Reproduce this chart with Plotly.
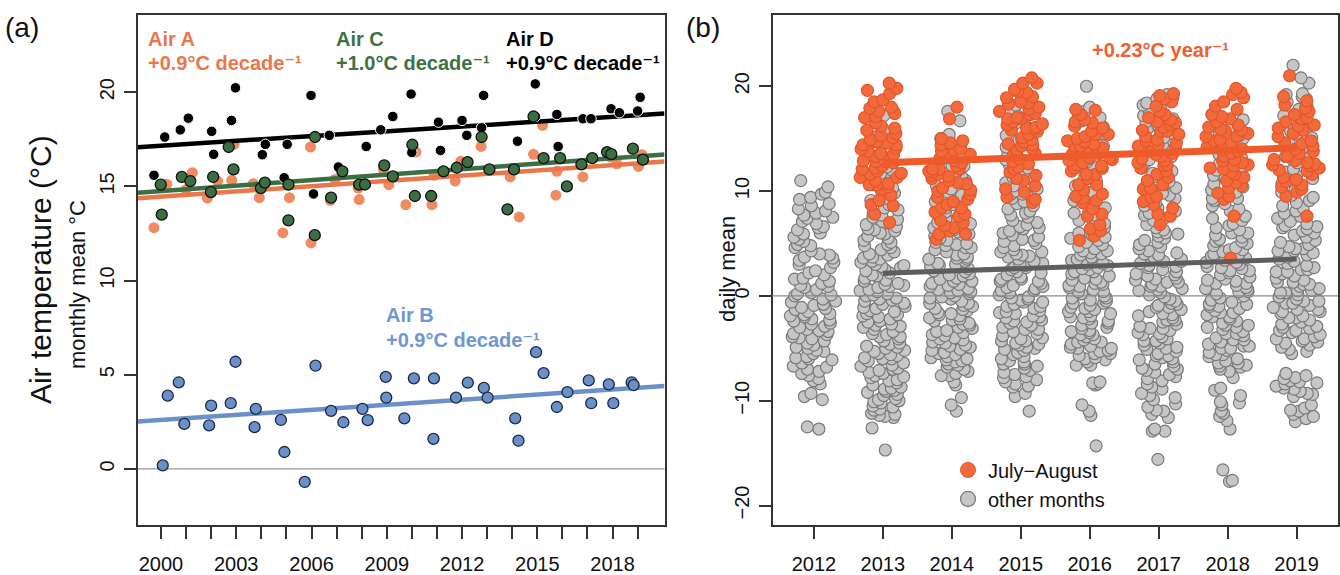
import plotly.graph_objects as go

# ---------------- data: panel (a) monthly means ----------------
AIR_A_X = [1999.72, 2000.23, 2001.00, 2001.25, 2001.85, 2002.26, 2002.82, 2002.91, 2003.68, 2003.92,
           2004.86, 2005.12, 2005.96, 2005.98, 2006.75, 2006.94, 2007.90, 2007.86, 2008.87, 2009.08,
           2009.76, 2010.16, 2010.80, 2010.89, 2011.73, 2011.95, 2012.76, 2013.92, 2014.28, 2014.85,
           2015.21, 2015.74, 2015.78, 2016.82, 2017.91, 2018.17, 2019.03, 2019.17]
AIR_A_Y = [12.81, 15.11, 14.83, 15.73, 14.38, 15.28, 15.32, 17.23, 15.14, 14.40,
           12.53, 14.40, 17.09, 12.00, 14.26, 15.37, 14.30, 14.91, 15.89, 15.09,
           14.03, 16.82, 14.03, 15.59, 15.28, 16.33, 17.12, 15.50, 13.38, 16.70,
           18.24, 14.53, 15.80, 15.50, 16.56, 16.20, 16.06, 16.68]

AIR_B_X = [2000.07, 2000.27, 2000.71, 2000.93, 2001.92, 2002.00, 2002.78, 2002.97, 2003.73, 2003.78,
           2004.78, 2004.92, 2005.73, 2006.16, 2006.78, 2007.27, 2008.03, 2008.24, 2008.96, 2008.98,
           2009.70, 2010.08, 2010.88, 2010.86, 2011.76, 2012.23, 2012.87, 2013.02, 2014.12, 2014.25,
           2014.95, 2015.25, 2015.78, 2016.20, 2017.05, 2017.15, 2017.85, 2018.03, 2018.76, 2018.84]
AIR_B_Y = [0.19, 3.89, 4.60, 2.39, 2.31, 3.36, 3.49, 5.69, 2.22, 3.19,
           2.60, 0.90, -0.69, 5.48, 3.08, 2.48, 3.19, 2.59, 4.89, 3.79,
           2.69, 4.81, 4.81, 1.60, 3.79, 4.58, 4.30, 3.79, 2.69, 1.50,
           6.20, 5.09, 3.29, 4.08, 4.70, 3.49, 4.49, 3.49, 4.60, 4.45]

AIR_C_X = [1999.99, 2000.03, 2000.83, 2001.17, 2001.99, 2002.08, 2002.70, 2002.89, 2003.98, 2004.14,
           2005.08, 2005.08, 2006.14, 2006.13, 2006.78, 2007.23, 2007.90, 2008.13, 2008.90, 2009.24,
           2010.02, 2010.12, 2010.77, 2011.26, 2011.79, 2012.22, 2012.78, 2013.09, 2013.81, 2014.07,
           2014.85, 2015.25, 2015.91, 2016.18, 2016.76, 2017.19, 2017.78, 2017.95, 2018.81, 2019.21]
AIR_C_Y = [15.09, 13.50, 15.50, 15.28, 14.70, 15.50, 17.09, 15.90, 14.91, 15.20,
           15.09, 13.20, 17.62, 12.41, 14.40, 15.80, 15.09, 15.10, 16.12, 15.53,
           17.21, 14.49, 14.49, 15.80, 15.99, 16.29, 17.62, 15.90, 13.78, 15.90,
           18.71, 16.50, 16.50, 15.00, 16.17, 16.50, 16.82, 16.71, 17.00, 16.42]

AIR_D_X = [1999.72, 2000.15, 2000.77, 2001.09, 2002.02, 2002.10, 2002.81, 2002.97, 2004.04, 2004.16,
           2004.91, 2005.03, 2005.98, 2006.08, 2006.71, 2007.07, 2008.18, 2008.76, 2009.24, 2009.97,
           2010.00, 2011.06, 2011.14, 2012.00, 2012.19, 2012.78, 2012.86, 2014.21, 2014.92, 2014.92,
           2015.78, 2015.83, 2016.82, 2017.14, 2017.94, 2018.27, 2019.00, 2019.10]
AIR_D_Y = [15.59, 17.62, 18.00, 18.62, 17.92, 16.70, 18.50, 20.23, 16.68, 17.23,
           15.46, 17.23, 19.83, 14.60, 17.71, 16.03, 17.12, 18.00, 18.71, 19.90,
           16.80, 18.41, 16.91, 18.50, 17.71, 18.11, 19.83, 17.40, 20.44, 18.71,
           18.82, 17.12, 18.59, 18.59, 19.12, 18.91, 19.00, 19.73]

# linear trends: value at 2000 and slope per year
TREND_A = [14.45, 0.093]
TREND_B = [2.60, 0.090]
TREND_C = [14.75, 0.097]
TREND_D = [17.16, 0.085]

LABEL_A = ["Air A", "+0.9°C decade⁻¹"]
LABEL_B = ["Air B", "+0.9°C decade⁻¹"]
LABEL_C = ["Air C", "+1.0°C decade⁻¹"]
LABEL_D = ["Air D", "+0.9°C decade⁻¹"]

A_MINOR_TICKS = list(range(2000, 2020))
A_LABEL_YEARS = [2000, 2003, 2006, 2009, 2012, 2015, 2018]

# ---------------- data: panel (b) daily means ----------------
YEARS_B = [2012, 2013, 2014, 2015, 2016, 2017, 2018, 2019]

GRAY_2012 = [11.0, 10.4, 9.9, 9.7, 9.4, 8.6, 8.3, 8.1, 7.7, 7.4, 7.1, 6.9, 6.3, 6.0, 5.6, 4.9, 4.8, 4.3,
             4.0, 3.6, 3.2, 2.4, 2.0, 1.7, 1.4, 1.2, 0.9, 0.6, 0.3, 0.0, -0.3, -0.6, -0.8, -1.1, -1.5,
             -1.8, -2.0, -2.2, -2.6, -2.9, -3.2, -3.4, -3.7, -4.0, -4.3, -4.5, -4.9, -5.2, -5.5, -5.8,
             -6.1, -6.4, -6.7, -7.0, -7.4, -7.9, -8.1, -9.3, -9.6, -9.9, -12.5, -12.7, 2.7, -1.3, 0.2,
             -3.0, -5.0, 5.2, 3.4, -2.4,
             9.2, 8.8, 7.9, 7.5, 6.6, 5.9, 5.4, 4.6, 3.9, 3.0, 2.2, 1.6, 0.8, 0.1, -0.5, -1.2, -1.9,
             -2.7, -3.3, -3.9, -4.7, -5.3, -6.0, -6.8, -7.6, -8.4, 1.0, -0.9, -2.3, -4.1, -5.9, -7.2,
             6.5, 3.7, -1.7, -3.6]
GRAY_2013 = [17.6, 17.2, 16.5, 15.8, 15.3, 14.9, 14.2, 13.6, 12.9, 12.3, 11.7, 11.1, 10.6, 10.0, 9.6,
             9.1, 8.7, 8.2, 7.9, 7.5, 7.1, 6.8, 6.4, 6.0, 5.7, 5.3, 4.9, 4.6, 4.2, 3.9, 3.5, 3.2, 2.8,
             2.5, 2.2, 1.9, 1.5, 1.2, 0.8, 0.5, 0.2, -0.2, -0.5, -0.8, -1.2, -1.5, -1.8, -2.2, -2.5,
             -2.9, -3.2, -3.6, -3.9, -4.3, -4.6, -5.0, -5.3, -5.7, -6.0, -6.4, -6.7, -7.1, -7.4, -7.8,
             -8.1, -8.5, -8.8, -9.2, -9.5, -9.9, -10.2, -10.6, -10.9, -11.3, -11.6, -12.6, -14.7, 3.0,
             0.0, -3.0, -6.9, 5.5, 1.0, -1.0, -4.8, -9.0, 2.0, 6.6, -2.7, -7.6,
             12.0, 11.4, 10.3, 9.8, 9.3, 8.4, 7.7, 7.3, 6.2, 5.9, 5.1, 4.4, 4.0, 3.6, 3.3, 2.7, 2.4, 1.7,
             1.4, 0.9, 0.4, 0.1, -0.4, -0.7, -1.1, -1.4, -1.9, -2.4, -2.8, -3.4, -3.7, -4.1, -4.5, -5.2,
             -5.5, -5.9, -6.2, -6.6, -7.0, -7.3, -7.7, -8.0, -8.3, -8.7, -9.1, -9.4, -9.8, -10.1, -10.5,
             -10.8, -11.2, -11.5, -11.4, 1.1, -0.3, -2.0, -3.9, -6.0, 2.9, 4.8, -1.7, -8.9, 0.6, 3.7,
             -4.9, 6.3, -5.6, -10.0]
GRAY_2014 = [17.6, 16.7, 15.4, 14.9, 14.3, 13.8, 13.2, 12.7, 12.1, 11.6, 11.0, 10.5, 9.9, 9.4, 8.9,
             8.4, 8.0, 7.6, 7.1, 6.7, 6.3, 5.9, 5.5, 5.1, 4.8, 4.4, 4.0, 3.7, 3.3, 3.0, 2.6, 2.3, 1.9,
             1.6, 1.2, 0.9, 0.5, 0.2, -0.2, -0.5, -0.9, -1.2, -1.6, -1.9, -2.3, -2.6, -3.0, -3.3, -3.7,
             -4.0, -4.4, -4.7, -5.1, -5.4, -5.8, -6.1, -6.5, -6.8, -7.2, -7.6, -8.2, -8.5, -9.7, -10.4,
             -11.0, 3.5, 1.4, -0.7, -2.8, -4.9, 6.0, 9.0, -1.4, -3.5, -6.3, 0.6, 2.0, 4.6, -5.6, 12.4,
             15.0, 14.6, 13.5, 13.0, 12.4, 11.9, 11.3, 10.8, 10.2, 9.6, 9.2, 8.7, 8.2, 7.8, 7.3, 6.9, 6.5,
             6.1, 5.7, 5.3, 4.9, 4.6, 4.2, 3.9, 3.5, 3.1, 2.8, 2.4, 2.1, 1.7, 1.4, 1.0, 0.7, 0.3, 0.0,
             -0.3, -0.7, -1.0, -1.3, -1.7, -2.1, -2.4, -2.7, -3.1, -3.4, -3.8, -4.1, -4.5, -4.8, -5.2,
             -5.5, -5.9, -6.2, -6.6, -7.0, -7.4, -7.6, 1.1, -0.1, -2.2, -4.2, 2.9, 5.0, -6.0, 0.4, -1.8,
             3.6, 7.0]
GRAY_2015 = [18.2, 17.5, 16.9, 16.2, 15.6, 15.0, 14.5, 13.9, 13.3, 12.8, 12.2, 11.6, 11.1, 10.5, 10.0,
             9.5, 9.0, 8.6, 8.1, 7.7, 7.2, 6.8, 6.4, 6.0, 5.6, 5.2, 4.8, 4.4, 4.0, 3.7, 3.3, 2.9, 2.5,
             2.2, 1.8, 1.4, 1.0, 0.7, 0.3, -0.1, -0.4, -0.8, -1.2, -1.5, -1.9, -2.3, -2.6, -3.0, -3.4,
             -3.8, -4.1, -4.5, -4.9, -5.2, -5.6, -6.0, -6.3, -6.7, -7.1, -7.5, -7.8, -8.2, -8.6, -9.3,
             -9.6, -11.0, 0.5, -1.0, -3.2, -5.0, 2.7, 4.2, -2.0, -6.5, 1.6, -0.2, 3.9, -4.3, 6.5, 9.7,
             17.2, 16.5, 15.9, 15.3, 14.8, 14.2, 13.6, 13.0, 12.5, 11.9, 11.3, 10.8, 10.2, 9.7, 9.3, 8.8,
             8.3, 7.9, 7.5, 7.0, 6.6, 6.2, 5.8, 5.4, 5.0, 4.6, 4.2, 3.8, 3.5, 3.1, 2.7, 2.3, 2.0, 1.6,
             1.2, 0.8, 0.5, 0.1, -0.3, -0.6, -1.0, -1.4, -1.7, -2.1, -2.5, -2.8, -3.2, -3.6, -4.0, -4.3,
             -4.7, -5.1, -5.4, -5.8, -6.2, -6.5, -6.9, -7.3, -7.7, -8.0, -8.4, -8.7, 1.4, -0.6, -2.4,
             3.0, -4.6, 0.9, -1.6, 5.3]
GRAY_2016 = [20.0, 18.0, 17.3, 16.7, 16.1, 15.5, 14.9, 14.3, 13.7, 13.1, 12.5, 11.9, 11.3, 10.8, 10.2,
             9.7, 9.1, 8.6, 8.1, 7.6, 7.2, 6.7, 6.2, 5.8, 5.3, 4.9, 4.5, 4.1, 3.7, 3.3, 2.9, 2.5, 2.1,
             1.7, 1.3, 1.0, 0.6, 0.2, -0.2, -0.5, -0.9, -1.3, -1.7, -2.0, -2.4, -2.8, -3.1, -3.5, -3.9,
             -4.2, -4.6, -5.0, -5.3, -5.7, -6.1, -6.6, -8.3, -8.4, -8.5, -8.2, -10.4, -11.0, -11.4,
             -14.3, 0.4, -1.5, -3.7, 2.3, 4.3, -2.6, -4.4, 1.1, -0.7, 3.0, -5.5, 5.6,
             17.6, 17.0, 16.4, 15.8, 15.2, 14.6, 14.0, 13.4, 12.8, 12.2, 11.6, 11.0, 10.5, 9.9, 9.4, 8.9,
             8.4, 7.9, 7.4, 6.9, 6.5, 6.0, 5.5, 5.1, 4.7, 4.3, 3.9, 3.5, 3.1, 2.7, 2.3, 1.9, 1.5, 1.2,
             0.8, 0.4, 0.0, -0.4, -0.7, -1.1, -1.5, -1.9, -2.2, -2.6, -3.0, -3.3, -3.7, -4.1, -4.4, -4.8,
             -5.2, -5.5, -5.9, -6.3, -6.6, 0.9, -0.2, -2.1, -3.4, 2.6, 4.0, -4.9, 1.6, -1.2, 3.4, 6.3,
             -5.0, -6.0]
GRAY_2017 = [19.2, 18.8, 18.2, 17.5, 16.9, 16.3, 15.7, 15.1, 14.5, 13.9, 13.3, 12.8, 12.2, 11.7, 11.1,
             10.6, 10.1, 9.6, 9.1, 8.6, 8.1, 7.7, 7.2, 6.8, 6.3, 5.9, 5.5, 5.1, 4.7, 4.3, 3.9, 3.5, 3.1,
             2.7, 2.3, 1.9, 1.5, 1.1, 0.7, 0.3, -0.1, -0.5, -0.9, -1.3, -1.7, -2.1, -2.5, -2.9, -3.3,
             -3.7, -4.1, -4.5, -4.9, -5.3, -5.7, -6.1, -6.5, -6.9, -7.3, -7.7, -8.1, -8.7, -9.3, -9.5,
             -10.3, -10.9, -11.0, -11.3, -11.6, -12.7, -12.9, -12.9, -15.6, 0.9, -1.1, -3.1, -5.0, 2.0,
             4.0, -2.3, -6.0, -7.0, 1.3, -4.3, 6.0, 3.3, -8.4, -9.9,
             18.9, 18.4, 17.8, 17.2, 16.6, 16.0, 15.4, 14.8, 14.2, 13.6, 13.0, 12.5, 11.9, 11.4, 10.9,
             10.3, 9.8, 9.3, 8.8, 8.4, 7.9, 7.4, 7.0, 6.5, 6.1, 5.7, 5.3, 4.9, 4.5, 4.1, 3.7, 3.3, 2.9,
             2.5, 2.1, 1.7, 1.3, 0.9, 0.5, 0.1, -0.3, -0.7, -1.1, -1.5, -1.9, -2.3, -2.7, -3.1, -3.5,
             -3.9, -4.3, -4.7, -5.1, -5.5, -5.9, -6.3, -6.7, -7.1, -7.5, -7.9, -8.9, -9.7, -10.6, 0.6,
             -1.8, -3.6, 2.8, -5.7, 1.6, -0.8]
GRAY_2018 = [17.0, 16.4, 15.9, 15.3, 14.7, 14.1, 13.5, 12.9, 12.3, 11.8, 11.2, 10.7, 10.1, 9.6, 9.1,
             8.6, 8.1, 7.6, 7.2, 6.7, 6.3, 5.8, 5.4, 5.0, 4.6, 4.2, 3.8, 3.4, 3.0, 2.6, 2.2, 1.8, 1.4,
             1.0, 0.6, 0.2, -0.2, -0.6, -1.0, -1.4, -1.8, -2.2, -2.6, -3.0, -3.4, -3.8, -4.2, -4.6, -5.0,
             -5.4, -5.8, -6.2, -6.6, -7.0, -7.8, -8.8, -9.5, -10.1, -10.4, -11.0, -11.2, -11.9, -12.7,
             -16.6, -17.6, -17.7, 0.4, -1.6, -3.6, -5.6, 2.4, 4.4, -0.8, -2.8, -4.8, 1.2, 3.2, -6.4, 6.0,
             9.3,
             16.8, 16.1, 15.6, 15.0, 14.4, 13.8, 13.2, 12.6, 12.0, 11.5, 10.9, 10.4, 9.9, 9.3, 8.8, 8.3,
             7.9, 7.4, 6.9, 6.5, 6.0, 5.6, 5.2, 4.8, 4.4, 4.0, 3.6, 3.2, 2.8, 2.4, 2.0, 1.6, 1.2, 0.8,
             0.4, 0.0, -0.4, -0.8, -1.2, -1.6, -2.0, -2.4, -2.8, -3.2, -3.6, -4.0, -4.4, -4.8, -5.2, -5.6,
             -6.0, -6.4, -6.8, -7.2, -9.0, -10.2, -11.5, 0.7, -1.0, -3.0, 2.7, -5.0, 1.5, -2.0, 3.9,
             -4.2, 5.2, -6.7]
GRAY_2019 = [22.0, 20.8, 20.3, 19.2, 19.0, 18.5, 17.8, 17.2, 16.6, 16.0, 15.4, 14.8, 14.2, 13.6, 13.0,
             12.4, 11.8, 11.2, 10.7, 10.1, 9.6, 9.1, 8.6, 8.1, 7.6, 7.1, 6.7, 6.2, 5.8, 5.3, 4.9, 4.5,
             4.1, 3.7, 3.3, 2.9, 2.5, 2.1, 1.7, 1.3, 0.9, 0.5, 0.1, -0.3, -0.7, -1.1, -1.5, -1.9, -2.3,
             -2.7, -3.1, -3.5, -3.9, -4.3, -4.7, -5.1, -5.5, -7.4, -7.6, -7.9, -8.1, -8.3, -8.4, -8.6,
             -8.9, -9.1, -9.3, -9.6, -10.4, -10.9, -11.0, -11.3, -11.7, -12.0, 0.3, -1.3, -3.3, 2.3, 4.3,
             -2.1, 1.1, 6.4, -4.1, -0.5,
             19.3, 18.8, 18.1, 17.5, 16.9, 16.3, 15.7, 15.1, 14.5, 13.9, 13.3, 12.7, 12.1, 11.5, 11.0,
             10.4, 9.9, 9.4, 8.9, 8.4, 7.9, 7.4, 6.9, 6.5, 6.0, 5.6, 5.1, 4.7, 4.3, 3.9, 3.5, 3.1, 2.7,
             2.3, 1.9, 1.5, 1.1, 0.7, 0.3, -0.1, -0.5, -0.9, -1.3, -1.7, -2.1, -2.5, -2.9, -3.3, -3.7,
             -4.1, -4.5, -4.9, -5.3, -7.8, -8.2, -8.8, -9.4, -10.7, -11.5, 0.5, -1.5, 2.5, -3.0, 4.5,
             -0.7, 1.3, -4.4, 6.6]

ORANGE_2012 = []
ORANGE_2013 = [20.3, 19.8, 19.6, 19.3, 18.5, 18.0, 17.9, 17.6, 17.4, 17.1, 16.5, 16.0, 15.5, 15.1, 14.7,
               14.6, 14.1, 14.0, 13.1, 12.8, 12.8, 12.7, 12.1, 11.9, 11.3, 11.3, 10.7, 10.6, 10.6, 10.2,
               9.1, 8.7, 8.6, 7.8, 7.0, 14.4, 13.6, 12.4, 15.8, 11.6,
               16.2, 15.3, 14.9, 13.8, 13.3, 12.9, 12.2, 11.7, 11.0, 10.4, 9.6, 17.0, 18.7, 13.5, 14.4]
ORANGE_2014 = [18.0, 16.9, 15.0, 14.8, 14.4, 14.0, 13.8, 13.5, 12.4, 12.1, 12.1, 12.1, 11.5, 11.4, 11.0,
               10.3, 10.0, 9.4, 8.7, 8.4, 8.4, 7.8, 7.6, 7.2, 6.7, 6.5, 5.9, 5.9, 5.4, 11.8, 10.7, 13.1, 9.0,
               14.6, 13.9, 13.2, 12.7, 11.9, 11.2, 10.8, 10.1, 9.7, 9.2, 8.0, 7.0, 6.2, 12.9, 11.6]
ORANGE_2015 = [20.8, 20.3, 20.3, 19.5, 19.4, 18.9, 18.5, 18.4, 18.3, 17.6, 17.4, 17.3, 16.9, 16.9, 16.6,
               16.3, 16.0, 15.8, 15.7, 15.4, 14.7, 14.5, 14.3, 13.9, 13.4, 12.8, 12.3, 12.1, 11.8, 11.2,
               11.0, 10.5, 9.9, 9.4, 9.2, 8.9, 14.9, 13.1,
               19.0, 18.0, 17.8, 17.0, 16.4, 15.9, 15.1, 14.1, 13.6, 12.6, 11.5, 10.2, 19.7, 16.1, 14.4]
ORANGE_2016 = [17.8, 17.7, 17.3, 16.8, 16.6, 16.5, 16.0, 15.4, 15.2, 15.4, 14.8, 14.3, 14.3, 14.1, 13.5,
               13.2, 13.2, 12.7, 12.5, 12.2, 12.2, 11.6, 11.6, 10.6, 10.6, 9.7, 9.5, 9.1, 8.9, 7.8, 7.6,
               6.8, 6.4, 6.2, 5.7, 5.3,
               16.2, 15.7, 15.0, 14.5, 13.8, 13.0, 12.4, 11.9, 11.2, 10.1, 9.3, 8.3, 14.7, 12.9, 13.6]
ORANGE_2017 = [19.3, 19.1, 18.5, 17.6, 17.3, 16.8, 16.5, 16.3, 15.8, 15.7, 15.7, 14.9, 14.8, 14.6, 14.3,
               13.9, 13.8, 13.5, 12.5, 12.4, 12.2, 11.6, 11.3, 10.3, 10.2, 9.5, 9.4, 8.7, 8.4, 7.8, 7.6,
               6.8, 13.1, 12.9, 15.2,
               18.8, 18.1, 17.0, 16.1, 15.4, 14.4, 13.3, 12.7, 11.9, 11.0, 10.6, 9.0, 16.6, 14.1, 13.6]
ORANGE_2018 = [19.8, 19.4, 19.2, 18.5, 17.8, 17.3, 17.1, 16.6, 16.3, 15.8, 15.7, 15.5, 14.9, 14.8, 14.6,
               13.9, 13.8, 13.6, 12.9, 12.7, 12.4, 11.6, 11.3, 11.0, 10.8, 10.3, 9.5, 9.2, 7.6, 3.6, 15.2,
               14.2, 12.1,
               18.9, 18.1, 16.9, 16.1, 15.2, 14.4, 13.3, 13.0, 12.5, 11.8, 10.5, 9.8, 15.9, 14.0, 12.2]
ORANGE_2019 = [21.0, 19.0, 18.2, 17.6, 17.3, 16.6, 16.3, 16.2, 15.8, 14.8, 14.6, 13.6, 13.3, 12.9, 12.5,
               12.4, 12.2, 11.9, 11.3, 10.6, 10.2, 9.9, 9.5, 7.6, 15.2, 14.0, 12.7, 11.6,
               18.6, 17.9, 17.0, 16.0, 15.5, 14.3, 13.8, 13.0, 12.0, 11.1, 10.9, 10.4, 16.9, 14.5, 12.6]

GRAY_B = [GRAY_2012, GRAY_2013, GRAY_2014, GRAY_2015, GRAY_2016, GRAY_2017, GRAY_2018, GRAY_2019]
ORANGE_B = [ORANGE_2012, ORANGE_2013, ORANGE_2014, ORANGE_2015, ORANGE_2016, ORANGE_2017,
            ORANGE_2018, ORANGE_2019]

# trend lines panel (b)
TREND_B_X = [2013.0, 2019.0]
TREND_JA_Y = [12.70, 14.12]
TREND_OTHER_Y = [2.16, 3.51]
LABEL_JA = "+0.23°C year⁻¹"
LEGEND_NAMES = ["July−August", "other months"]

# ---------------- styles ----------------
W, H = 1340, 575
FONT = "Liberation Sans, Arial, Helvetica, DejaVu Sans, sans-serif"
C_A, C_A_TXT = "#EE8B63", "#E8774B"
C_B, C_B_TXT = "#6B90C9", "#6F97D0"
C_C, C_C_TXT = "#3C6E43", "#3E7245"
C_D = "#000000"
C_JA, C_JA_LINE = "#F26A3B", "#EE5A2A"
C_GR, C_GR_LINE = "#C6C6C6", "#5E5E5E"

XR_A = [1999.08, 2020.07]
YR_A = [-3.0, 24.1]
XR_B = [2011.40, 2019.60]
YR_B = [-21.9, 26.8]


def px(x):
    return x / W


def py(y):
    return 1 - y / H


fig = go.Figure()


def trend(tr, xr):
    return [tr[0] + tr[1] * (x - 2000) for x in xr]


# panel (a) traces
fig.add_trace(go.Scatter(x=AIR_A_X, y=AIR_A_Y, mode="markers", xaxis="x", yaxis="y",
                         marker=dict(color=C_A, size=11, line=dict(width=0)), showlegend=False))
fig.add_trace(go.Scatter(x=XR_A, y=trend(TREND_A, XR_A), mode="lines", xaxis="x", yaxis="y",
                         line=dict(color="#E9774B", width=4.5), showlegend=False))
fig.add_trace(go.Scatter(x=XR_A, y=trend(TREND_C, XR_A), mode="lines", xaxis="x", yaxis="y",
                         line=dict(color=C_C, width=4.5), showlegend=False))
fig.add_trace(go.Scatter(x=XR_A, y=trend(TREND_D, XR_A), mode="lines", xaxis="x", yaxis="y",
                         line=dict(color=C_D, width=4.5), showlegend=False))
fig.add_trace(go.Scatter(x=XR_A, y=trend(TREND_B, XR_A), mode="lines", xaxis="x", yaxis="y",
                         line=dict(color=C_B, width=4.5), showlegend=False))
fig.add_trace(go.Scatter(x=AIR_D_X, y=AIR_D_Y, mode="markers", xaxis="x", yaxis="y",
                         marker=dict(color=C_D, size=10.5, line=dict(color="white", width=1)),
                         showlegend=False))
fig.add_trace(go.Scatter(x=AIR_C_X, y=AIR_C_Y, mode="markers", xaxis="x", yaxis="y",
                         marker=dict(color=C_C, size=11, line=dict(color="#111111", width=1.3)),
                         showlegend=False))
fig.add_trace(go.Scatter(x=AIR_B_X, y=AIR_B_Y, mode="markers", xaxis="x", yaxis="y",
                         marker=dict(color=C_B, size=11, line=dict(color="#1B2A44", width=1.3)),
                         showlegend=False))

# panel (b) traces: points spread by the library's own box-point jitter
gx = [yr for yr, vals in zip(YEARS_B, GRAY_B) for _ in vals]
gy = [v for vals in GRAY_B for v in vals]
ox = [yr for yr, vals in zip(YEARS_B, ORANGE_B) for _ in vals]
oy = [v for vals in ORANGE_B for v in vals]

box_common = dict(boxpoints="all", jitter=1, pointpos=0, width=0.72, xaxis="x2", yaxis="y2",
                  fillcolor="rgba(0,0,0,0)", line=dict(color="rgba(0,0,0,0)", width=0),
                  whiskerwidth=0, showlegend=False, hoveron="points")
fig.add_trace(go.Box(x=gx, y=gy, marker=dict(color=C_GR, size=12, line=dict(color="#7A7A7A", width=1.2)),
                     **box_common))
fig.add_trace(go.Box(x=ox, y=oy, marker=dict(color=C_JA, size=12, line=dict(color="#E4562A", width=1.2)),
                     **box_common))
fig.add_trace(go.Scatter(x=TREND_B_X, y=TREND_JA_Y, mode="lines", xaxis="x2", yaxis="y2",
                         line=dict(color=C_JA_LINE, width=7), showlegend=False))
fig.add_trace(go.Scatter(x=TREND_B_X, y=TREND_OTHER_Y, mode="lines", xaxis="x2", yaxis="y2",
                         line=dict(color=C_GR_LINE, width=5), showlegend=False))

# legend entries
fig.add_trace(go.Scatter(x=[None], y=[None], mode="markers", xaxis="x2", yaxis="y2", name=LEGEND_NAMES[0],
                         marker=dict(color=C_JA, size=15, line=dict(color="#E4562A", width=1))))
fig.add_trace(go.Scatter(x=[None], y=[None], mode="markers", xaxis="x2", yaxis="y2", name=LEGEND_NAMES[1],
                         marker=dict(color=C_GR, size=15, line=dict(color="#7A7A7A", width=1.3))))

axis_common = dict(showline=True, mirror=True, linecolor="#333333", linewidth=1.6, ticks="outside",
                   ticklen=12, tickwidth=1.5, tickcolor="#333333", showgrid=False, zeroline=False,
                   tickfont=dict(family=FONT, size=20, color="#111111"))

fig.update_layout(
    width=W, height=H, margin=dict(l=0, r=0, t=0, b=0),
    paper_bgcolor="white", plot_bgcolor="white",
    font=dict(family=FONT, size=20, color="#111111"),
    boxmode="overlay",
    xaxis=dict(domain=[px(137.9), px(664.5)], range=XR_A, tickmode="array", tickvals=A_LABEL_YEARS,
               minor=dict(tickmode="array", tickvals=A_MINOR_TICKS, ticks="outside", ticklen=12,
                          tickwidth=1.5, tickcolor="#333333", showgrid=False),
               anchor="y", ticklabelstandoff=8, **axis_common),
    yaxis=dict(domain=[py(527.3), py(15)], range=YR_A, tickvals=[0, 5, 10, 15, 20], tickangle=-90,
               anchor="x", ticklabelstandoff=2, **axis_common),
    xaxis2=dict(domain=[px(772.5), px(1338)], range=XR_B, tickvals=YEARS_B, anchor="y2",
                ticklabelstandoff=8, **axis_common),
    yaxis2=dict(domain=[py(527.3), py(15)], range=YR_B, tickvals=[-20, -10, 0, 10, 20], tickangle=-90,
                anchor="x2", ticklabelstandoff=2, **axis_common),
    legend=dict(x=px(948), y=py(452), xanchor="left", yanchor="top", bgcolor="rgba(0,0,0,0)",
                font=dict(family=FONT, size=20, color="#111111"), tracegroupgap=0, itemsizing="trace"),
    showlegend=True,
)

# zero lines
fig.add_shape(type="line", xref="x domain", yref="y", x0=0, x1=1, y0=0, y1=0,
              line=dict(color="#9A9A9A", width=1.3), layer="below")
fig.add_shape(type="line", xref="x2 domain", yref="y2", x0=0, x1=1, y0=0, y1=0,
              line=dict(color="#8A8A8A", width=1.3), layer="above")


def note(text, x, y, color="#111111", size=20, bold=False, anchor="left", angle=0):
    fig.add_annotation(text=("<b>%s</b>" % text) if bold else text, xref="paper", yref="paper",
                       x=px(x), y=py(y), xanchor=anchor, yanchor="middle", showarrow=False,
                       textangle=angle, font=dict(family=FONT, size=size, color=color))


note("(a)", 22, 28, size=28, anchor="center")
note("(b)", 703, 28, size=28, anchor="center")
note("Air temperature (°C)", 40, 271, size=30, anchor="center", angle=-90)
note("monthly mean °C", 77, 286, size=22, anchor="center", angle=-90)
note("daily mean", 727, 270, size=22, anchor="center", angle=-90)

note(LABEL_A[0], 146, 39, color=C_A_TXT, bold=True)
note(LABEL_A[1], 146, 63, color=C_A_TXT, bold=True)
note(LABEL_C[0], 334, 39, color=C_C_TXT, bold=True)
note(LABEL_C[1], 334, 63, color=C_C_TXT, bold=True)
note(LABEL_D[0], 504, 39, color="#000000", bold=True)
note(LABEL_D[1], 504, 63, color="#000000", bold=True)
note(LABEL_B[0], 384, 316, color=C_B_TXT, bold=True)
note(LABEL_B[1], 384, 341, color=C_B_TXT, bold=True)
note(LABEL_JA, 1090, 50, color="#EE5F30", bold=True)

fig.write_html("out.html")
